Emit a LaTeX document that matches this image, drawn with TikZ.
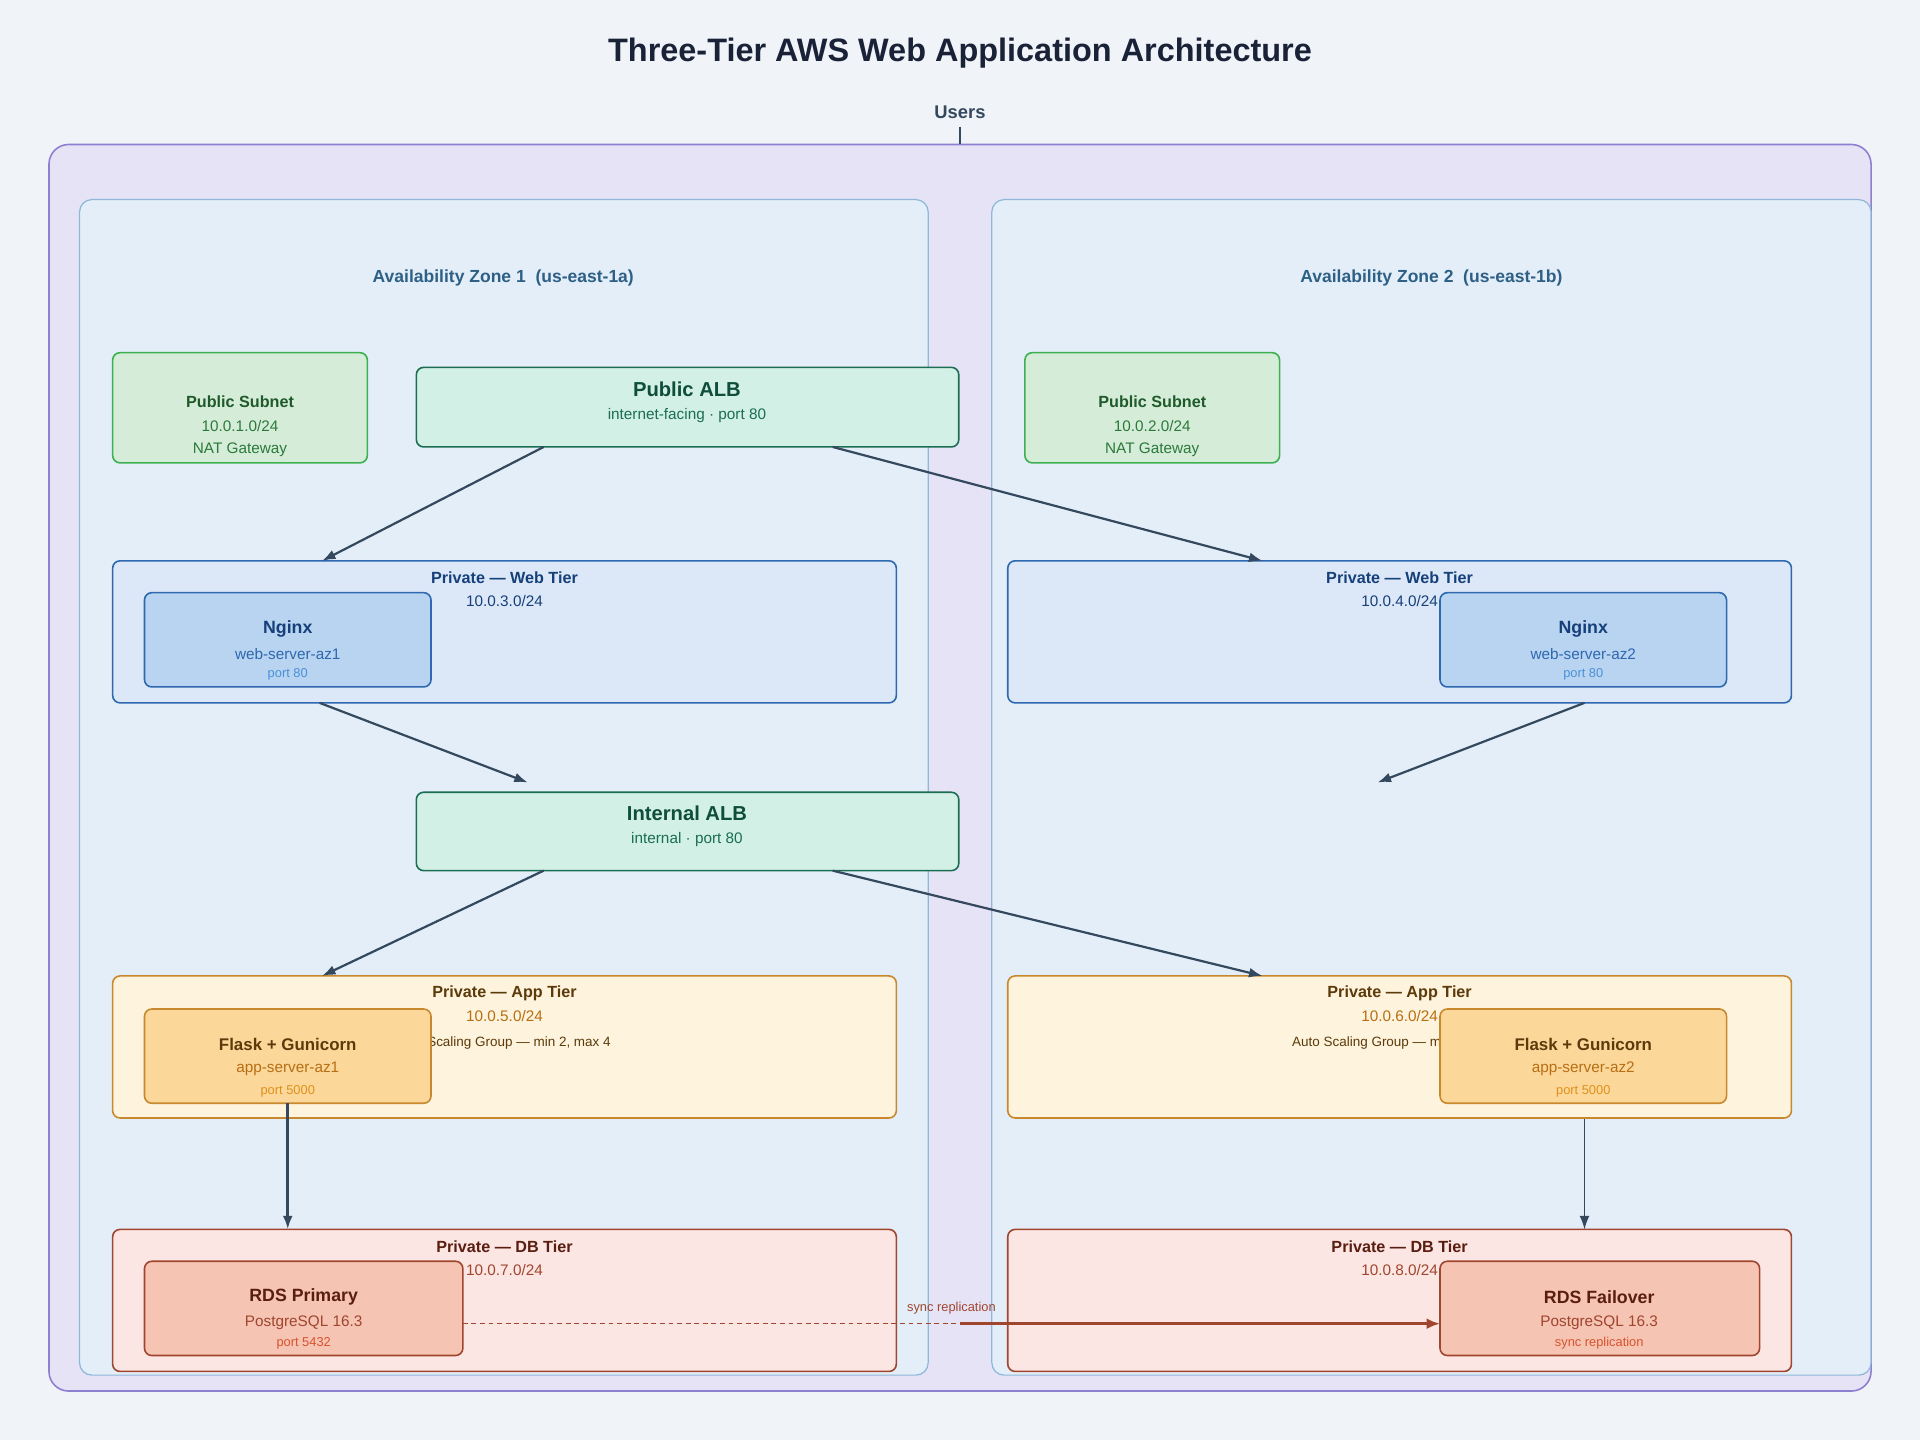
\documentclass[tikz,border=0pt]{standalone}
\usepackage{fontspec}
\setmainfont{Liberation Sans}
\usetikzlibrary{arrows.meta}
\definecolor{bg}{HTML}{F0F4F9}
\definecolor{vpcf}{HTML}{E7E3F6}\definecolor{vpcs}{HTML}{8E7FD0}
\definecolor{azf}{HTML}{E3EEF9}\definecolor{azs}{HTML}{8FB8D8}\definecolor{azt}{HTML}{2E5F85}
\definecolor{pubf}{HTML}{D5ECD9}\definecolor{pubs}{HTML}{3DB04F}\definecolor{pubt}{HTML}{1F5A2A}\definecolor{pubt2}{HTML}{2B7A3A}
\definecolor{albf}{HTML}{D2F0E6}\definecolor{albs}{HTML}{1B6E52}\definecolor{albt}{HTML}{0E4E3A}\definecolor{albt2}{HTML}{1B6E52}
\definecolor{webf}{HTML}{DCE8F7}\definecolor{webs}{HTML}{2D68B0}\definecolor{webt}{HTML}{16407A}\definecolor{webn}{HTML}{B9D4F0}\definecolor{webt3}{HTML}{4A90D9}
\definecolor{appf}{HTML}{FEF3DC}\definecolor{apps}{HTML}{C8892E}\definecolor{appt}{HTML}{5C3A0A}\definecolor{appn}{HTML}{FBD89A}\definecolor{appt2}{HTML}{B86E14}\definecolor{appt3}{HTML}{E0901A}
\definecolor{dbf}{HTML}{FCE6E3}\definecolor{dbs}{HTML}{A0452E}\definecolor{dbt}{HTML}{5A1E10}\definecolor{dbn}{HTML}{F5C4B3}\definecolor{dbt2}{HTML}{A0452E}\definecolor{dbt3}{HTML}{D9532E}
\definecolor{arr}{HTML}{34495E}\definecolor{ttl}{HTML}{1A2238}
\tikzset{
  box/.style={rounded corners=6pt, line width=1.3pt},
  lbl/.style={inner sep=0pt, anchor=center, font=\fontsize{12.5}{14}\selectfont},
  flow/.style={draw=arr, line width=1.8pt, -{Latex[length=11pt,width=8pt]}},
}
\begin{document}
\begin{tikzpicture}[x=1pt,y=-1pt]
\fill[bg] (0,0) rectangle (1568,1176);
\useasboundingbox (0,0) rectangle (1568,1176);
\node[lbl, text=ttl, font=\fontsize{26.5}{30}\bfseries] (title) at (784,43) {Three-Tier AWS Web Application Architecture};
\node[lbl, text=arr, font=\fontsize{15}{17}\bfseries] (users) at (784,92) {Users};
\draw[box, fill=vpcf, draw=vpcs, rounded corners=16pt] (40,118) rectangle (1528,1136);
\coordinate (vpctop) at (784,118);
\draw[arr, line width=1.8pt] (users.south) ++(0,6) -- (vpctop);
% AZ
\draw[box, fill=azf, draw=azs, line width=1pt, rounded corners=10pt] (65,163) rectangle (758,1123);
\draw[box, fill=azf, draw=azs, line width=1pt, rounded corners=10pt] (810,163) rectangle (1528,1123);
\node[lbl, text=azt, font=\fontsize{14.3}{16}\bfseries] (az1) at (411,227) {Availability Zone 1~~(us-east-1a)};
\node[lbl, text=azt, font=\fontsize{14.3}{16}\bfseries] (az2) at (1169,227) {Availability Zone 2~~(us-east-1b)};
% public subnets
\foreach \x/\c/\n in {92/10.0.1.0\slash 24/1, 837/10.0.2.0\slash 24/2}{
  \draw[box, fill=pubf, draw=pubs] (\x,288) rectangle ++(208,90);
  \node[lbl, text=pubt, font=\fontsize{13.2}{15}\bfseries] (pub\n) at (\x+104,328) {Public Subnet};
  \node[lbl, text=pubt2] (pubc\n) at (\x+104,348) {\c};
  \node[lbl, text=pubt2] (pubn\n) at (\x+104,367) {NAT Gateway};
}
% ALBs
\draw[box, fill=albf, draw=albs] (340,300) rectangle (783,365);
\node[lbl, text=albt, font=\fontsize{16.5}{18}\bfseries] (palb) at (561,318) {Public ALB};
\node[lbl, text=albt2] (palbs) at (561,339) {internet-facing · port 80};
\draw[box, fill=albf, draw=albs] (340,647) rectangle (783,711);
\node[lbl, text=albt, font=\fontsize{16.5}{18}\bfseries] (ialb) at (561,664) {Internal ALB};
\node[lbl, text=albt2] (ialbs) at (561,686) {internal · port 80};
% tiers
\newcommand{\tier}[9]{% x, fill, stroke, title color, title, cidrcolor, cidr, y, name
  \draw[box, fill=#2, draw=#3] (#1,#8) rectangle ++(640,116);
  \node[lbl, text=#4, font=\fontsize{13.2}{15}\bfseries] (#9t) at (#1+320,#8+14) {#5};
  \node[lbl, text=#6] (#9c) at (#1+320,#8+33) {#7};
}
\tier{92}{webf}{webs}{webt}{Private — Web Tier}{webt}{10.0.3.0/24}{458}{w1}
\tier{823}{webf}{webs}{webt}{Private — Web Tier}{webt}{10.0.4.0/24}{458}{w2}
\tier{92}{appf}{apps}{appt}{Private — App Tier}{appt2}{10.0.5.0/24}{797}{a1}
\tier{823}{appf}{apps}{appt}{Private — App Tier}{appt2}{10.0.6.0/24}{797}{a2}
\node[lbl, text=appt, font=\fontsize{11}{13}\selectfont] (asg1) at (411,852) {Auto Scaling Group — min 2, max 4};
\node[lbl, text=appt, font=\fontsize{11}{13}\selectfont] (asg2) at (1143,852) {Auto Scaling Group — min 2, max 4};
\tier{92}{dbf}{dbs}{dbt}{Private — DB Tier}{dbt2}{10.0.7.0/24}{1004}{d1}
\tier{823}{dbf}{dbs}{dbt}{Private — DB Tier}{dbt2}{10.0.8.0/24}{1004}{d2}
% inner service boxes
\foreach \x/\s in {118/1, 1176/2}{
  \draw[box, fill=webn, draw=webs] (\x,484) rectangle ++(234,77);
  \node[lbl, text=webt, font=\fontsize{14.5}{16}\bfseries] (ng\s) at (\x+117,514) {Nginx};
  \node[lbl, text=webs] (ngh\s) at (\x+117,534) {web-server-az\s};
  \node[lbl, text=webt3, font=\fontsize{10.5}{12}\selectfont] (ngp\s) at (\x+117,551) {port 80};
  \draw[box, fill=appn, draw=apps] (\x,824) rectangle ++(234,77);
  \node[lbl, text=appt, font=\fontsize{13.8}{16}\bfseries] (fl\s) at (\x+117,853) {Flask + Gunicorn};
  \node[lbl, text=appt2] (flh\s) at (\x+117,873) {app-server-az\s};
  \node[lbl, text=appt3, font=\fontsize{10.5}{12}\selectfont] (flp\s) at (\x+117,891) {port 5000};
}
\draw[box, fill=dbn, draw=dbs] (118,1030) rectangle (378,1107);
\node[lbl, text=dbt, font=\fontsize{14.5}{16}\bfseries] (rds1) at (248,1059) {RDS Primary};
\node[lbl, text=dbt2] (rds1v) at (248,1080) {PostgreSQL 16.3};
\node[lbl, text=dbt3, font=\fontsize{10.5}{12}\selectfont] (rds1p) at (248,1097) {port 5432};
\draw[box, fill=dbn, draw=dbs] (1176,1030) rectangle (1437,1107);
\node[lbl, text=dbt, font=\fontsize{14.5}{16}\bfseries] (rds2) at (1306,1059) {RDS Failover};
\node[lbl, text=dbt2] (rds2v) at (1306,1080) {PostgreSQL 16.3};
\node[lbl, text=dbt3, font=\fontsize{10.5}{12}\selectfont] (rds2p) at (1306,1097) {sync replication};
% connector points
\coordinate (palbL) at (444,365); \coordinate (palbR) at (680,365);
\coordinate (w1in) at (263,458); \coordinate (w2in) at (1031,458);
\coordinate (w1out) at (261,574); \coordinate (w2out) at (1294,574);
\coordinate (ialbin1) at (431,639); \coordinate (ialbin2) at (1125,639);
\coordinate (ialbL) at (444,711); \coordinate (ialbR) at (680,711);
\coordinate (a1in) at (263,797); \coordinate (a2in) at (1031,797);
\coordinate (f1out) at (235,901); \coordinate (a2out) at (1294,914);
\coordinate (d1in) at (235,1004); \coordinate (d2in) at (1294,1004);
\coordinate (rep1) at (378,1081); \coordinate (repm) at (784,1081); \coordinate (rep2) at (1176,1081);
\draw[flow] (palbL) -- (w1in);
\draw[flow] (palbR) -- (w2in);
\draw[flow] (w1out) -- (ialbin1);
\draw[flow] (w2out) -- (ialbin2);
\draw[flow] (ialbL) -- (a1in);
\draw[flow] (ialbR) -- (a2in);
\draw[flow, line width=2.2pt] (f1out) -- (d1in);
\draw[flow, line width=1.2pt] (a2out) -- (d2in);
\draw[dbs, line width=1.3pt, dash pattern=on 4pt off 3pt] (rep1) -- (repm);
\draw[dbs, line width=2.4pt, -{Latex[length=11pt,width=9pt]}] (repm) -- (rep2);
\node[lbl, text=dbs, font=\fontsize{10.5}{12}\selectfont] (replbl) at (777,1068) {sync replication};
\end{tikzpicture}
\end{document}
